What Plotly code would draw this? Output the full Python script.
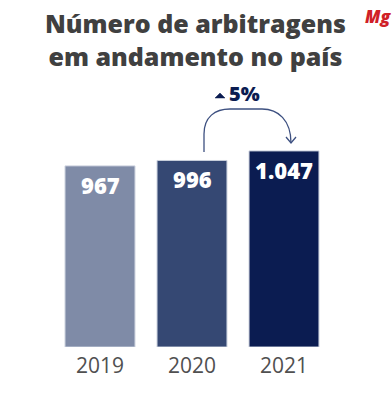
import plotly.graph_objects as go

years = ["2019", "2020", "2021"]
values = [967, 996, 1047]
labels = ["967", "996", "1.047"]
colors = ["#7f8ba7", "#354873", "#0b1c51"]
title_lines = ["Número de arbitragens", "em andamento no país"]
change_label = "5%"

W, H = 392, 400
L, R, T, B = 54, 62, 141, 53

def px(x):
    return (x - L) / (W - L - R)

def py(y):
    return (H - B - y) / (H - T - B)

fig = go.Figure()
fig.add_trace(go.Bar(
    x=years, y=values,
    marker=dict(color=colors, line=dict(color="#c9cfdc", width=1)),
    hoverinfo="skip",
))

for i, (v, lab) in enumerate(zip(values, labels)):
    fig.add_annotation(x=i, y=v, text=lab, showarrow=False,
                       xanchor="center", yanchor="top", yshift=-2,
                       font=dict(family="Open Sans", size=22, color="white", weight=800))

# curved arrow from 2020 to 2021
path = (f"M {px(204)} {py(152)} L {px(204)} {py(134)} "
        f"C {px(204)} {py(117)}, {px(215)} {py(109)}, {px(230)} {py(109)} "
        f"L {px(262)} {py(109)} "
        f"C {px(278)} {py(109)}, {px(291)} {py(120)}, {px(291)} {py(143)}")
fig.add_shape(type="path", path=path, xref="paper", yref="paper",
              line=dict(color="#3d5080", width=1.3))
fig.add_shape(type="path", xref="paper", yref="paper",
              path=f"M {px(286)} {py(137)} L {px(291)} {py(143)} L {px(296)} {py(137)}",
              line=dict(color="#3d5080", width=1.3))

# small up-triangle and change label
fig.add_shape(type="path", xref="paper", yref="paper",
              path=f"M {px(215)} {py(98)} L {px(220)} {py(93)} L {px(225)} {py(98)} Z",
              fillcolor="#0b1c51", line=dict(color="#0b1c51", width=0.5))
fig.add_annotation(x=px(227), y=py(93), xref="paper", yref="paper",
                   xanchor="left", yanchor="middle",
                   text=change_label, showarrow=False,
                   font=dict(family="Open Sans", size=20, color="#0b1c51", weight=800))

fig.add_annotation(x=px(195), y=py(39), xref="paper", yref="paper",
                   xanchor="center", yanchor="middle", borderpad=0, align="center",
                   text="<br>".join(title_lines), showarrow=False,
                   font=dict(family="Open Sans", size=25, color="#404040", weight=800))

fig.add_annotation(x=px(378), y=py(16), xref="paper", yref="paper",
                   xanchor="center", yanchor="middle",
                   text="<i>Mg</i>", showarrow=False,
                   font=dict(family="Open Sans", size=17, color="#d02027", weight=800))

fig.update_layout(
    width=W, height=H,
    margin=dict(l=L, r=R, t=T, b=B),
    paper_bgcolor="white", plot_bgcolor="white",
    bargap=0.24, showlegend=False,
    xaxis=dict(type="category", range=[-0.5, 2.5], showline=False, showgrid=False,
               zeroline=False, ticks="",
               tickfont=dict(family="Open Sans", size=21, color="#505050"),
               ticklabelstandoff=4, fixedrange=True),
    yaxis=dict(range=[0, 1100], visible=False, fixedrange=True),
)

fig.write_html("out.html", config={"displayModeBar": False},
               post_script="document.body.style.margin='0px';document.body.style.overflow='hidden';")
